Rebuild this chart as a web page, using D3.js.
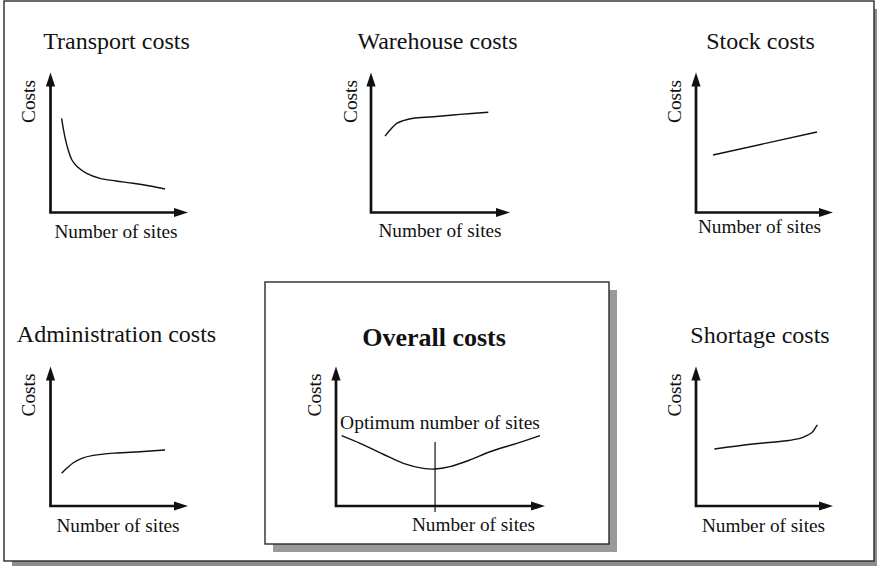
<!DOCTYPE html>
<html>
<head>
<meta charset="utf-8">
<script src="https://cdn.jsdelivr.net/npm/d3@7/dist/d3.min.js"></script>
<style>
  html, body { margin: 0; padding: 0; background: #fff; }
  svg { display: block; }
  text { font-family: "Liberation Serif", "Times New Roman", serif; fill: #111; }
</style>
</head>
<body>
<script>
// Qualitative cost curves, x = number of sites, y = costs (both on a 0–10 scale)
const transportCosts = [[0.81,6.73],[0.95,5.89],[1.13,5.04],[1.29,4.46],[1.56,3.75],[1.95,3.27],[2.63,2.80],[3.60,2.44],[4.76,2.25],[6.00,2.09],[7.24,1.89],[8.33,1.68]];
const warehouseCosts = [[1.01,5.46],[1.37,5.89],[1.85,6.37],[2.32,6.56],[3.04,6.73],[4.48,6.84],[6.40,7.01],[8.44,7.16]];
const stockCosts = [[1.24,4.11],[8.83,5.75]];
const administrationCosts = [[0.81,2.34],[1.18,2.70],[1.66,3.10],[2.27,3.42],[3.11,3.63],[4.81,3.80],[6.51,3.89],[8.33,4.01]];
const overallCosts = [[0.27,5.04],[1.15,4.49],[2.26,3.71],[3.22,3.06],[4.18,2.70],[4.74,2.65],[5.45,2.82],[6.41,3.30],[7.37,3.89],[8.65,4.49],[9.76,5.04]];
const shortageCosts = [[1.34,4.09],[4.18,4.44],[6.62,4.68],[7.59,4.85],[8.08,5.04],[8.52,5.33],[8.69,5.57],[8.86,5.81]];
const optimumSites = 4.74;
const optimumMarker = [4.59, -0.43];   // vertical extent of the optimum marker (cost units)

const panelTitles = ["Transport costs", "Warehouse costs", "Stock costs", "Administration costs", "Overall costs", "Shortage costs"];
const xAxisLabel = "Number of sites";
const yAxisLabel = "Costs";
const optimumLabel = "Optimum number of sites";

const W = 877, H = 566;
const svg = d3.select("body").append("svg").attr("width", W).attr("height", H);

// Outer frame with drop shadow
svg.append("rect").attr("x", 12).attr("y", 9).attr("width", 870).attr("height", 560).attr("fill", "#8c8c8c");
svg.append("rect").attr("x", 4).attr("y", 1).attr("width", 870).attr("height", 560)
  .attr("fill", "#fff").attr("stroke", "#2a2a2a").attr("stroke-width", 1.4);

// Highlighted box behind the overall-costs panel
svg.append("rect").attr("x", 273).attr("y", 290).attr("width", 344).attr("height", 262).attr("fill", "#9a9a9a");
svg.append("rect").attr("x", 265).attr("y", 282).attr("width", 344).attr("height", 262)
  .attr("fill", "#fff").attr("stroke", "#2a2a2a").attr("stroke-width", 1.4);

// Panel layout: axis origin/tips and label anchors
const panels = [
  { data: transportCosts, title: panelTitles[0], ox: 50.5, oy: 212.5, xt: 188, yt: 72.5,
    tx: 116.5, ty: 49, lx: 116, ly: 238, cx: 35, cy: 101.5 },
  { data: warehouseCosts, title: panelTitles[1], ox: 371, oy: 212.5, xt: 510, yt: 72.5,
    tx: 437.5, ty: 49, lx: 440, ly: 237, cx: 357, cy: 101.5 },
  { data: stockCosts, title: panelTitles[2], ox: 696, oy: 212.5, xt: 833, yt: 72.5,
    tx: 760.5, ty: 49, lx: 759.5, ly: 233, cx: 681, cy: 101.5 },
  { data: administrationCosts, title: panelTitles[3], ox: 50.5, oy: 506, xt: 188, yt: 366.5,
    tx: 116.5, ty: 342, lx: 118, ly: 531.5, cx: 35, cy: 395 },
  { data: overallCosts, title: panelTitles[4], ox: 336, oy: 506, xt: 545, yt: 366.5,
    tx: 434, ty: 346, lx: 473.5, ly: 531, cx: 321, cy: 395, bold: true, optimum: true },
  { data: shortageCosts, title: panelTitles[5], ox: 696, oy: 506, xt: 833, yt: 366.5,
    tx: 760, ty: 343, lx: 763.5, ly: 532, cx: 681, cy: 395 }
];

const arrowLen = 14, arrowHalf = 4.6;

panels.forEach(p => {
  const x = d3.scaleLinear().domain([0, 10]).range([p.ox, p.xt]);
  const y = d3.scaleLinear().domain([0, 10]).range([p.oy, p.yt]);
  const g = svg.append("g");

  // Axes with arrowheads
  const x0 = x(0), y0 = y(0), xEnd = x(10), yEnd = y(10);
  g.append("path")
    .attr("d", `M${x0},${yEnd + arrowLen - 1}V${y0}H${xEnd - arrowLen + 1}`)
    .attr("fill", "none").attr("stroke", "#111").attr("stroke-width", 2.7)
    .attr("stroke-linejoin", "miter").attr("stroke-linecap", "square");
  g.append("path")
    .attr("d", `M${x0},${yEnd}L${x0 - arrowHalf},${yEnd + arrowLen}L${x0 + arrowHalf},${yEnd + arrowLen}Z`)
    .attr("fill", "#111");
  g.append("path")
    .attr("d", `M${xEnd},${y0}L${xEnd - arrowLen},${y0 - arrowHalf}L${xEnd - arrowLen},${y0 + arrowHalf}Z`)
    .attr("fill", "#111");

  // Cost curve
  const line = d3.line().x(d => x(d[0])).y(d => y(d[1])).curve(d3.curveCatmullRom.alpha(0.5));
  g.append("path").datum(p.data).attr("d", line)
    .attr("fill", "none").attr("stroke", "#111").attr("stroke-width", 1.4);

  // Optimum marker
  if (p.optimum) {
    g.append("line")
      .attr("x1", x(optimumSites)).attr("x2", x(optimumSites))
      .attr("y1", y(optimumMarker[0])).attr("y2", y(optimumMarker[1]))
      .attr("stroke", "#111").attr("stroke-width", 1.2);
    g.append("text").attr("x", 440).attr("y", 429).attr("text-anchor", "middle")
      .attr("font-size", 19.5).text(optimumLabel);
  }

  // Titles and axis labels
  g.append("text").attr("x", p.tx).attr("y", p.ty).attr("text-anchor", "middle")
    .attr("font-size", p.bold ? 26 : 24).attr("font-weight", p.bold ? "bold" : "normal")
    .text(p.title);
  g.append("text").attr("x", p.lx).attr("y", p.ly).attr("text-anchor", "middle")
    .attr("font-size", 19.3).text(xAxisLabel);
  g.append("text").attr("transform", `translate(${p.cx},${p.cy}) rotate(-90)`)
    .attr("text-anchor", "middle").attr("font-size", 19.3).text(yAxisLabel);
});
</script>
</body>
</html>
